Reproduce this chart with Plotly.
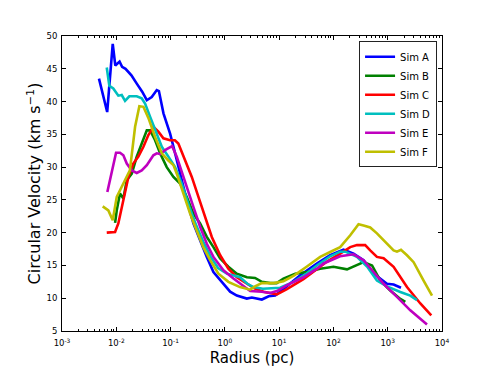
import plotly.graph_objects as go

# ---- data (radius in pc, circular velocity in km/s) ----
r_a = [0.0048, 0.0068, 0.0086, 0.0096, 0.0115, 0.0128, 0.0148, 0.019, 0.024, 0.030, 0.0365, 0.045,
       0.0557, 0.061, 0.074, 0.098, 0.113, 0.150, 0.199, 0.264, 0.35, 0.465, 0.616, 0.94, 1.25, 1.66,
       2.54, 3.14, 4.8, 6.4, 8.45, 12, 24.4, 49.5, 87, 153, 235, 359, 550, 968, 1283, 1755]
v_a = [43.5, 38.4, 48.8, 45.5, 46.1, 45.3, 45.0, 44.0, 42.7, 41.5, 40.2, 40.7,
       41.75, 41.6, 38.2, 35.1, 33.1, 29.0, 24.95, 21.4, 18.8, 16.3, 14.0, 12.2, 11.0, 10.4,
       9.95, 10.1, 9.8, 10.3, 10.4, 11.4, 13.5, 15.3, 16.55, 17.4, 16.8, 15.8, 13.75, 12.2, 12.1, 11.6]

r_b = [0.0095, 0.0102, 0.0117, 0.0135, 0.0156, 0.0193, 0.0238, 0.0294, 0.0365, 0.042, 0.0519, 0.0641,
       0.085, 0.113, 0.15, 0.199, 0.264, 0.35, 0.465, 0.616, 0.82, 1.16, 1.66, 2.54, 3.6, 4.8, 6.8, 9.0,
       12, 19.8, 32, 57, 100, 178, 271, 359, 515, 730, 1100, 1706, 2110]
v_b = [21.5, 23.4, 26.0, 25.2, 28.0, 29.0, 31.6, 33.6, 35.6, 35.6, 34.1, 32.1,
       30.0, 28.5, 27.5, 25.45, 22.9, 21.4, 19.35, 17.8, 16.05, 14.8, 13.75, 13.2, 13.1, 12.5, 12.3, 12.3,
       13.0, 13.75, 14.0, 14.5, 14.8, 14.4, 15.1, 15.5, 15.0, 12.7, 11.2, 9.9, 9.45]

r_c = [0.00667, 0.0095, 0.0109, 0.0135, 0.0167, 0.0206, 0.0255, 0.0316, 0.039, 0.0482, 0.0596, 0.0737,
       0.098, 0.12, 0.139, 0.185, 0.246, 0.326, 0.433, 0.575, 0.82, 1.16, 1.66, 2.54, 3.5, 5.15, 9.1,
       13.9, 28, 57, 76, 133, 204, 271, 385, 476, 633, 840, 1283, 2264, 3990, 6350]
v_c = [20.0, 20.1, 21.4, 25.0, 28.5, 30.55, 31.6, 33.1, 34.9, 36.15, 35.4, 34.4,
       34.1, 34.1, 33.6, 31.05, 28.5, 25.45, 22.4, 19.35, 16.55, 14.5, 13.2, 12.2, 11.5, 11.0, 10.6,
       11.4, 12.9, 14.8, 15.6, 16.8, 17.8, 18.1, 18.1, 17.3, 16.3, 16.1, 14.8, 11.7, 9.2, 7.4]

r_d = [0.00667, 0.00745, 0.0088, 0.0109, 0.0126, 0.0145, 0.0174, 0.0238, 0.0294, 0.0339, 0.0419, 0.0557,
       0.0689, 0.0912, 0.121, 0.16, 0.22, 0.3, 0.4, 0.55, 0.75, 1.09, 1.44, 1.9, 2.6, 3.37, 5.0, 7.0,
       10.4, 18.4, 32, 49.5, 87, 133, 165, 271, 420, 633, 968, 1706, 2606, 3470]
v_d = [45.2, 42.4, 42.0, 40.9, 41.0, 40.1, 40.8, 40.8, 40.5, 39.7, 37.7, 35.1,
       33.1, 31.6, 30.0, 27.5, 24.0, 21.0, 18.6, 16.3, 14.6, 13.75, 13.5, 13.2, 12.2, 11.7, 11.45, 11.5,
       11.6, 12.5, 13.75, 15.0, 16.4, 17.1, 17.1, 16.3, 14.8, 12.7, 11.8, 10.95, 10.4, 9.7]

r_e = [0.00684, 0.0082, 0.0099, 0.0117, 0.0135, 0.0156, 0.0193, 0.0238, 0.0294, 0.0365, 0.0482, 0.0557,
       0.065, 0.079, 0.098, 0.107, 0.13, 0.15, 0.199, 0.264, 0.35, 0.465, 0.616, 0.94, 1.44, 2.2, 2.93,
       4.8, 6.8, 9.1, 13.9, 28, 49.5, 65.8, 133, 235, 359, 550, 840, 1480, 2606, 5290]
v_e = [26.2, 29.0, 32.2, 32.2, 31.8, 30.55, 29.5, 29.1, 29.5, 30.3, 31.8, 32.1,
       32.0, 32.6, 33.1, 33.2, 31.6, 30.0, 27.0, 23.9, 20.9, 18.3, 16.3, 14.25, 13.0, 11.8, 11.1,
       11.0, 10.8, 11.1, 12.0, 13.2, 14.5, 15.3, 16.4, 16.7, 15.8, 14.0, 12.2, 10.2, 8.15, 6.0]

r_f = [0.00562, 0.00714, 0.0086, 0.0102, 0.0126, 0.0156, 0.0178, 0.0222, 0.0266, 0.0316, 0.039, 0.0519,
       0.0689, 0.09, 0.113, 0.13, 0.17, 0.229, 0.3, 0.4, 0.536, 0.76, 1.16, 1.9, 2.93, 3.6, 4.8, 8.0,
       12, 19, 32, 57, 87, 133, 204, 290, 359, 476, 633, 968, 1283, 1480, 1755, 2264, 3000, 4580, 6550]
v_f = [24.0, 23.4, 21.9, 25.45, 27.0, 28.5, 29.5, 36.15, 39.3, 39.2, 37.5, 34.6,
       32.1, 31.05, 30.3, 29.0, 26.0, 22.9, 20.4, 17.8, 15.8, 13.75, 12.5, 11.7, 11.3, 11.8, 12.3, 12.3,
       12.6, 13.5, 14.8, 16.3, 17.05, 17.8, 19.6, 21.3, 21.1, 20.8, 19.9, 18.3, 17.3, 17.1, 17.4, 16.55, 15.5, 12.7, 10.4]

names = ["Sim A", "Sim B", "Sim C", "Sim D", "Sim E", "Sim F"]
colors = ["#0000ff", "#008000", "#ff0000", "#00bfbf", "#bf00bf", "#bfbf00"]

x_tick_vals = [1e-3, 1e-2, 1e-1, 1e0, 1e1, 1e2, 1e3, 1e4]
x_tick_text = ["10<sup>-3</sup>", "10<sup>-2</sup>", "10<sup>-1</sup>", "10<sup>0</sup>",
               "10<sup>1</sup>", "10<sup>2</sup>", "10<sup>3</sup>", "10<sup>4</sup>"]
y_tick_vals = [5, 10, 15, 20, 25, 30, 35, 40, 45, 50]

minor_vals = [m * d for d in [1e-3, 1e-2, 1e-1, 1e0, 1e1, 1e2, 1e3] for m in range(2, 10)]

series = [(r_a, v_a), (r_b, v_b), (r_c, v_c), (r_d, v_d), (r_e, v_e), (r_f, v_f)]

fig = go.Figure()
for (rr, vv), name, col in zip(series, names, colors):
    fig.add_trace(go.Scatter(x=rr, y=vv, mode="lines", name=name,
                             line=dict(color=col, width=2.6)))

font_family = "DejaVu Sans"
fig.update_layout(
    width=491, height=368,
    margin=dict(l=62, r=49, t=36, b=37, pad=0),
    paper_bgcolor="white", plot_bgcolor="white",
    font=dict(family=font_family, color="black"),
    showlegend=True,
    legend=dict(x=0.987, y=0.982, xanchor="right", yanchor="top",
                bordercolor="#222222", borderwidth=1, bgcolor="white",
                font=dict(size=10, family=font_family), itemwidth=30,
                tracegroupgap=0),
)
fig.update_xaxes(
    type="log", range=[-3, 4], automargin=False,
    tickmode="array", tickvals=x_tick_vals, ticktext=x_tick_text,
    ticks="inside", ticklen=4, tickwidth=1, tickcolor="black",
    minor=dict(tickmode="array", tickvals=minor_vals, ticks="inside", ticklen=2,
               tickcolor="black", tickwidth=1, showgrid=False),
    showline=True, linecolor="black", linewidth=1, mirror="ticks",
    showgrid=False, zeroline=False, ticklabelstandoff=4,
    tickfont=dict(size=8.5, family=font_family),
    title=dict(text="Radius (pc)", font=dict(size=15, family=font_family), standoff=5),
)
fig.update_yaxes(
    range=[5, 50], tickmode="array", tickvals=y_tick_vals, automargin=False,
    ticks="inside", ticklen=4, tickwidth=1, tickcolor="black",
    showline=True, linecolor="black", linewidth=1, mirror="ticks",
    showgrid=False, zeroline=False, ticklabelstandoff=2,
    tickfont=dict(size=8.5, family=font_family),
    title=dict(text="Circular Velocity (km s<sup>−1</sup>)", font=dict(size=16, family=font_family),
               standoff=1),
)

fig.write_html("out.html", config={"displayModeBar": False},
               post_script="document.body.style.margin='0';document.body.style.overflow='hidden';")
